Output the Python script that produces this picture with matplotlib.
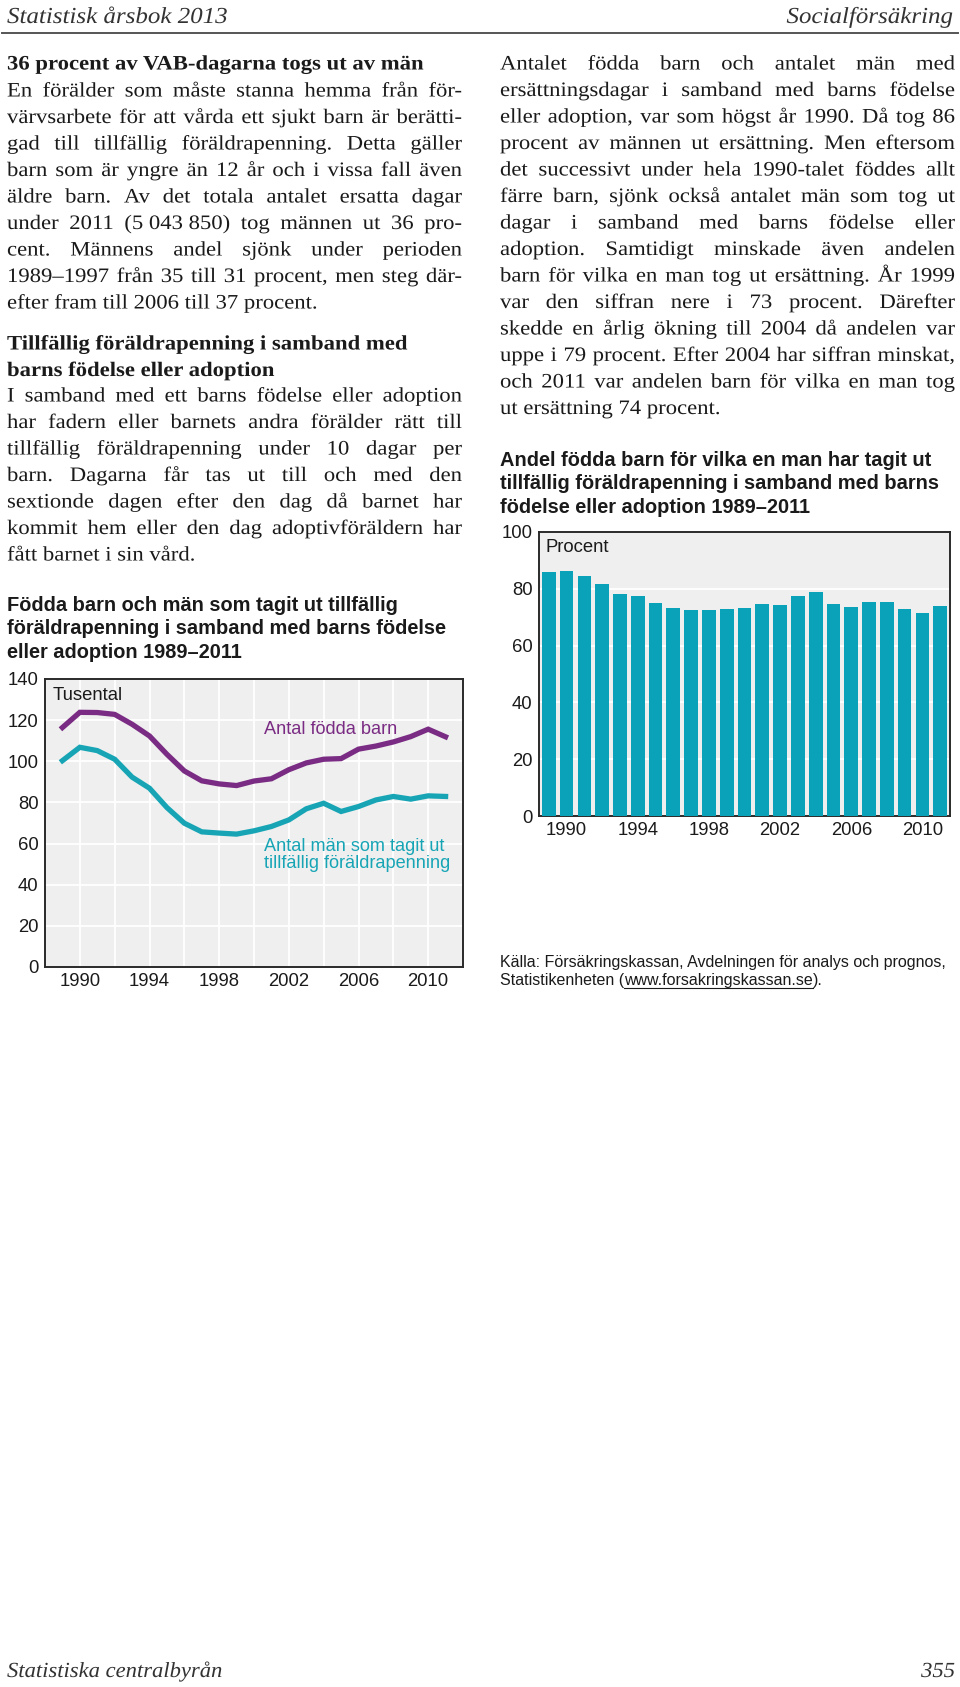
import matplotlib
matplotlib.use("Agg")
import matplotlib.pyplot as plt
from matplotlib.font_manager import FontProperties
from matplotlib.lines import Line2D
from matplotlib.textpath import TextPath, text_to_path
from matplotlib.patches import PathPatch
from matplotlib.transforms import Affine2D

W, H = 960, 1687
DPI = 100
PX = DPI / 72
fig = plt.figure(figsize=(9.6, 16.87), dpi=DPI)
renderer = fig.canvas.get_renderer()

SERIF = "Liberation Serif"
SANS = "Liberation Sans"
INK = "#1a1a1a"
PURPLE = "#7a2b83"
TEAL = "#17a5b6"
BAR = "#0aa2b8"
BG = "#efefef"

# data
years = list(range(1989, 2012))
births = [116.4, 123.8, 123.7, 122.8, 118.0, 112.3, 103.4, 95.3, 90.5, 89.0, 88.2, 90.4,
          91.5, 95.9, 99.2, 101.0, 101.3, 105.9, 107.4, 109.4, 112.0, 115.6, 111.9]
men = [100.3, 106.8, 105.2, 101.0, 92.3, 86.9, 77.5, 69.9, 65.7, 65.1, 64.6, 66.2,
       68.3, 71.5, 76.9, 79.6, 75.6, 78.0, 81.2, 82.9, 81.6, 83.2, 82.9]
share = [85.9, 86.3, 84.6, 81.8, 78.2, 77.6, 74.9, 73.4, 72.4, 72.7, 72.9, 73.4,
         74.7, 74.4, 77.3, 78.8, 74.6, 73.6, 75.3, 75.5, 72.8, 71.6, 74.0]
label_years = [1990, 1994, 1998, 2002, 2006, 2010]

left_title = ["Födda barn och män som tagit ut tillfällig",
              "föräldrapenning i samband med barns födelse",
              "eller adoption 1989–2011"]
right_title = ["Andel födda barn för vilka en man har tagit ut",
               "tillfällig föräldrapenning i samband med barns",
               "födelse eller adoption 1989–2011"]

head1 = ["36 procent av VAB-dagarna togs ut av män"]
para1 = ["En förälder som måste stanna hemma från för-",
         "värvsarbete för att vårda ett sjukt barn är berätti-",
         "gad till tillfällig föräldrapenning. Detta gäller",
         "barn som är yngre än 12 år och i vissa fall även",
         "äldre barn. Av det totala antalet ersatta dagar",
         "under 2011 (5\u00a0043\u00a0850) tog männen ut 36 pro-",
         "cent. Männens andel sjönk under perioden",
         "1989–1997 från 35 till 31 procent, men steg där-",
         "efter fram till 2006 till 37 procent."]
head2 = ["Tillfällig föräldrapenning i samband med",
         "barns födelse eller adoption"]
para2 = ["I samband med ett barns födelse eller adoption",
         "har fadern eller barnets andra förälder rätt till",
         "tillfällig föräldrapenning under 10 dagar per",
         "barn. Dagarna får tas ut till och med den",
         "sextionde dagen efter den dag då barnet har",
         "kommit hem eller den dag adoptivföräldern har",
         "fått barnet i sin vård."]
para3 = ["Antalet födda barn och antalet män med",
         "ersättningsdagar i samband med barns födelse",
         "eller adoption, var som högst år 1990. Då tog 86",
         "procent av männen ut ersättning. Men eftersom",
         "det successivt under hela 1990-talet föddes allt",
         "färre barn, sjönk också antalet män som tog ut",
         "dagar i samband med barns födelse eller",
         "adoption. Samtidigt minskade även andelen",
         "barn för vilka en man tog ut ersättning. År 1999",
         "var den siffran nere i 73 procent. Därefter",
         "skedde en årlig ökning till 2004 då andelen var",
         "uppe i 79 procent. Efter 2004 har siffran minskat,",
         "och 2011 var andelen barn för vilka en man tog",
         "ut ersättning 74 procent."]


def fx(x):
    return x / W


def fy(y):
    return 1 - y / H


def tw(s, fp):
    # advance width in pixels
    return text_to_path.get_text_width_height_descent(s, fp, ismath=False)[0] * PX


def word(s, x, y, fp, sx=1.0, color=INK, ha="left"):
    # text drawn as a path so every word sits on the same baseline
    w = tw(s, fp) * sx
    if ha == "right":
        x -= w
    tr = Affine2D().scale(PX * sx, PX).translate(x, H - y)
    fig.add_artist(PathPatch(TextPath((0, 0), s, prop=fp), transform=tr,
                             fc=color, ec="none", lw=0))
    return w


BODY = FontProperties(family=SERIF, size=14.8)
BOLD = FontProperties(family=SERIF, size=14.8, weight="bold")
STEP = 26.5
COLW = 455

# stretch the serif horizontally (the original face is wider than Times)
space = tw(" ", BODY)
widest = max(sum(tw(w, BODY) for w in l.split(" ")) + space * (len(l.split(" ")) - 1)
             for l in para1 + para2 + para3)
SX = min(1.12, 0.985 * COLW / widest)


def body(lines, x0, y0):
    x1 = x0 + COLW
    for i, line in enumerate(lines):
        y = y0 + i * STEP
        words = line.split(" ")
        if i == len(lines) - 1:
            x = x0
            for w in words:
                x += word(w, x, y, BODY, SX) + space * SX
            continue
        ws = [tw(w, BODY) * SX for w in words]
        gap = (x1 - x0 - sum(ws)) / (len(words) - 1)
        x = x0
        for w, wd in zip(words, ws):
            word(w, x, y, BODY, SX)
            x += wd + gap


def heading(lines, x0, y0):
    for i, line in enumerate(lines):
        word(line, x0, y0 + i * STEP, BOLD, SX)


# page header / footer
ITAL = FontProperties(family=SERIF, style="italic", size=16.5)
FOOT = FontProperties(family=SERIF, style="italic", size=15.5)
word("Statistisk årsbok 2013", 7, 23, ITAL, 1.09, "#333333")
word("Socialförsäkring", 953, 23, ITAL, 1.09, "#333333", ha="right")
fig.add_artist(Line2D([fx(2), fx(958)], [fy(33), fy(33)], color="#555555", lw=1.4,
                      transform=fig.transFigure))
word("Statistiska centralbyrån", 7, 1677, FOOT, 1.05, "#333333")
word("355", 955, 1677, FOOT, 1.05, "#333333", ha="right")

# text columns
heading(head1, 7, 69.5)
body(para1, 7, 96.5)
heading(head2, 7, 349.5)
body(para2, 7, 401.5)
body(para3, 500, 69.5)

# chart titles
for i, t in enumerate(left_title):
    fig.text(fx(7), fy(611 + i * 23.5), t, family=SANS, weight="bold", size=14.4,
             va="baseline", color=INK)
for i, t in enumerate(right_title):
    fig.text(fx(500), fy(466 + i * 23.3), t, family=SANS, weight="bold", size=14.4,
             va="baseline", color=INK)


def style_axes(ax):
    ax.set_facecolor(BG)
    for s in ax.spines.values():
        s.set_color("#2a2a2a")
        s.set_linewidth(1.4)
    ax.tick_params(length=0, labelsize=13.3, labelcolor=INK, pad=4.5)
    for lab in ax.get_xticklabels() + ax.get_yticklabels():
        lab.set_family(SANS)


# left chart: lines
ax1 = fig.add_axes([fx(45), fy(967), (463 - 45) / W, (967 - 679) / H])
ax1.plot(years, births, color=PURPLE, lw=3.8, solid_joinstyle="miter", zorder=3)
ax1.plot(years, men, color=TEAL, lw=3.8, solid_joinstyle="miter", zorder=3)
ax1.set_xlim(1988.5, 2011.5)
ax1.set_ylim(0, 140)
ax1.set_yticks(range(0, 141, 20))
ax1.set_xticks(label_years)
ax1.set_xticks(range(1988, 2013, 2), minor=True)
ax1.tick_params(which="minor", length=0)
ax1.grid(True, which="both", color="white", lw=1.3)
ax1.set_axisbelow(True)
style_axes(ax1)
ax1.text(0.019, 0.944, "Tusental", transform=ax1.transAxes, family=SANS, size=13.3,
         va="center", color=INK)
ax1.text(2000.6, 115.3, "Antal födda barn", family=SANS, size=13.1, va="center",
         color=PURPLE)
ax1.text(2000.6, 54.5, "Antal män som tagit ut\ntillfällig föräldrapenning", family=SANS,
         size=13.1, va="center", color=TEAL, linespacing=0.95)

# right chart: bars
ax2 = fig.add_axes([fx(539), fy(816), (950 - 539) / W, (816 - 532) / H])
ax2.bar(years, share, width=0.77, color=BAR, zorder=3)
ax2.set_xlim(1988.45, 2011.55)
ax2.set_ylim(0, 100)
ax2.set_yticks(range(0, 101, 20))
ax2.set_xticks(label_years)
ax2.grid(True, axis="y", color="white", lw=1.3)
ax2.set_axisbelow(True)
style_axes(ax2)
ax2.text(0.015, 0.947, "Procent", transform=ax2.transAxes, family=SANS, size=13.3,
         va="center", color=INK)

# source
fp_src = FontProperties(family=SANS, size=11.5)
fig.text(fx(500), fy(967), "Källa: Försäkringskassan, Avdelningen för analys och prognos,",
         fontproperties=fp_src, va="baseline", color=INK)
parts = ["Statistikenheten (", "www.forsakringskassan.se", ")."]
x = 500
for k, p in enumerate(parts):
    fig.text(fx(x), fy(985), p, fontproperties=fp_src, va="baseline", color=INK)
    w = renderer.get_text_width_height_descent(p, fp_src, ismath=False)[0]
    if k == 1:
        fig.add_artist(Line2D([fx(x), fx(x + w)], [fy(987.5), fy(987.5)], color=INK,
                              lw=0.8, transform=fig.transFigure))
    x += w

fig.savefig("out.png", dpi=DPI, facecolor="white")
